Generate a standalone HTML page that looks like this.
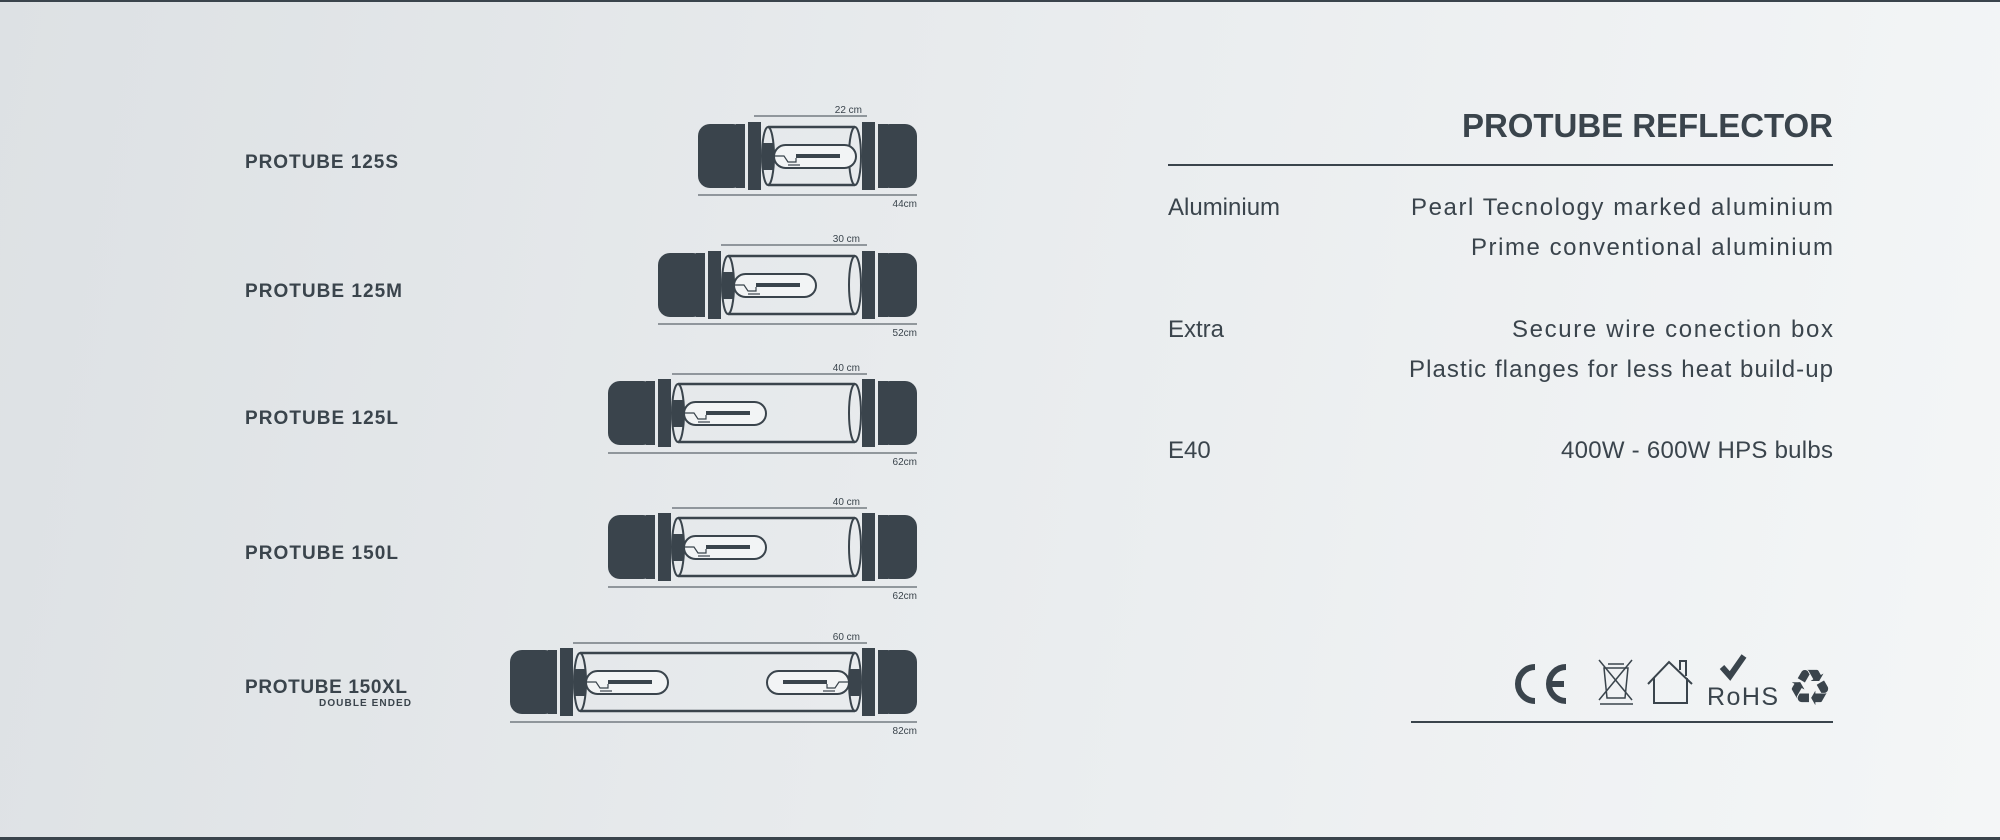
<!DOCTYPE html>
<html><head><meta charset="utf-8"><style>
html,body{margin:0;padding:0;width:2000px;height:840px;overflow:hidden}
body{background:linear-gradient(100deg,#dde1e4 0%,#e9ecee 50%,#f4f6f7 100%)}
svg{position:absolute;left:0;top:0}
text{font-family:"Liberation Sans",sans-serif;fill:#3a444c}
</style></head><body>
<svg width="2000" height="840" viewBox="0 0 2000 840">
<rect x="0" y="0" width="2000" height="2" fill="#3a444c"/>
<rect x="0" y="837" width="2000" height="3" fill="#3a444c"/>

<g font-weight="bold" font-size="19">
<text x="245" y="168" textLength="153">PROTUBE 125S</text>
<text x="245" y="297" textLength="157">PROTUBE 125M</text>
<text x="245" y="424" textLength="153">PROTUBE 125L</text>
<text x="245" y="559" textLength="153">PROTUBE 150L</text>
<text x="245" y="693" textLength="162">PROTUBE 150XL</text>
<text x="411" y="706" font-size="10" text-anchor="end" textLength="92">DOUBLE ENDED</text>
</g>

<defs>
<g id="lampL">
<rect x="0" y="19" width="12" height="27" fill="#3a444c"/>
<rect x="12" y="21" width="82" height="23" rx="11.5" fill="#f2f4f5" stroke="#3a444c" stroke-width="2"/>
<rect x="34" y="30" width="44" height="4" fill="#3a444c"/>
<polyline points="13,32 22,32 26,38 34,38 34,34" fill="none" stroke="#3a444c" stroke-width="1.2"/>
<line x1="26" y1="41" x2="38" y2="41" stroke="#3a444c" stroke-width="1.2"/>
</g>
</defs>

<g>
<rect x="698" y="124" width="47" height="64" rx="12" fill="#3a444c"/>
<rect x="736" y="124" width="9" height="64" fill="#3a444c"/>
<rect x="748" y="122" width="13" height="68" fill="#3a444c"/>
<line x1="768" y1="127" x2="855" y2="127" stroke="#3a444c" stroke-width="2.5"/>
<line x1="768" y1="185" x2="855" y2="185" stroke="#3a444c" stroke-width="2.5"/>
<ellipse cx="768" cy="156" rx="6" ry="29" fill="none" stroke="#3a444c" stroke-width="2"/>
<ellipse cx="855" cy="156" rx="6" ry="29" fill="none" stroke="#3a444c" stroke-width="2"/>
<use href="#lampL" x="762" y="124"/>
<rect x="862" y="122" width="13" height="68" fill="#3a444c"/>
<rect x="878" y="124" width="39" height="64" rx="12" fill="#3a444c"/>
<rect x="878" y="124" width="10" height="64" fill="#3a444c"/>
</g>
<g>
<rect x="658" y="253" width="47" height="64" rx="12" fill="#3a444c"/>
<rect x="696" y="253" width="9" height="64" fill="#3a444c"/>
<rect x="708" y="251" width="13" height="68" fill="#3a444c"/>
<line x1="728" y1="256" x2="855" y2="256" stroke="#3a444c" stroke-width="2.5"/>
<line x1="728" y1="314" x2="855" y2="314" stroke="#3a444c" stroke-width="2.5"/>
<ellipse cx="728" cy="285" rx="6" ry="29" fill="none" stroke="#3a444c" stroke-width="2"/>
<ellipse cx="855" cy="285" rx="6" ry="29" fill="none" stroke="#3a444c" stroke-width="2"/>
<use href="#lampL" x="722" y="253"/>
<rect x="862" y="251" width="13" height="68" fill="#3a444c"/>
<rect x="878" y="253" width="39" height="64" rx="12" fill="#3a444c"/>
<rect x="878" y="253" width="10" height="64" fill="#3a444c"/>
</g>
<g>
<rect x="608" y="381" width="47" height="64" rx="12" fill="#3a444c"/>
<rect x="646" y="381" width="9" height="64" fill="#3a444c"/>
<rect x="658" y="379" width="13" height="68" fill="#3a444c"/>
<line x1="678" y1="384" x2="855" y2="384" stroke="#3a444c" stroke-width="2.5"/>
<line x1="678" y1="442" x2="855" y2="442" stroke="#3a444c" stroke-width="2.5"/>
<ellipse cx="678" cy="413" rx="6" ry="29" fill="none" stroke="#3a444c" stroke-width="2"/>
<ellipse cx="855" cy="413" rx="6" ry="29" fill="none" stroke="#3a444c" stroke-width="2"/>
<use href="#lampL" x="672" y="381"/>
<rect x="862" y="379" width="13" height="68" fill="#3a444c"/>
<rect x="878" y="381" width="39" height="64" rx="12" fill="#3a444c"/>
<rect x="878" y="381" width="10" height="64" fill="#3a444c"/>
</g>
<g>
<rect x="608" y="515" width="47" height="64" rx="12" fill="#3a444c"/>
<rect x="646" y="515" width="9" height="64" fill="#3a444c"/>
<rect x="658" y="513" width="13" height="68" fill="#3a444c"/>
<line x1="678" y1="518" x2="855" y2="518" stroke="#3a444c" stroke-width="2.5"/>
<line x1="678" y1="576" x2="855" y2="576" stroke="#3a444c" stroke-width="2.5"/>
<ellipse cx="678" cy="547" rx="6" ry="29" fill="none" stroke="#3a444c" stroke-width="2"/>
<ellipse cx="855" cy="547" rx="6" ry="29" fill="none" stroke="#3a444c" stroke-width="2"/>
<use href="#lampL" x="672" y="515"/>
<rect x="862" y="513" width="13" height="68" fill="#3a444c"/>
<rect x="878" y="515" width="39" height="64" rx="12" fill="#3a444c"/>
<rect x="878" y="515" width="10" height="64" fill="#3a444c"/>
</g>
<g>
<rect x="510" y="650" width="47" height="64" rx="12" fill="#3a444c"/>
<rect x="548" y="650" width="9" height="64" fill="#3a444c"/>
<rect x="560" y="648" width="13" height="68" fill="#3a444c"/>
<line x1="580" y1="653" x2="855" y2="653" stroke="#3a444c" stroke-width="2.5"/>
<line x1="580" y1="711" x2="855" y2="711" stroke="#3a444c" stroke-width="2.5"/>
<ellipse cx="580" cy="682" rx="6" ry="29" fill="none" stroke="#3a444c" stroke-width="2"/>
<ellipse cx="855" cy="682" rx="6" ry="29" fill="none" stroke="#3a444c" stroke-width="2"/>
<use href="#lampL" x="574" y="650"/>
<use href="#lampL" transform="translate(861,650) scale(-1,1)"/>
<rect x="862" y="648" width="13" height="68" fill="#3a444c"/>
<rect x="878" y="650" width="39" height="64" rx="12" fill="#3a444c"/>
<rect x="878" y="650" width="10" height="64" fill="#3a444c"/>
</g>

<g stroke="#3a444c" stroke-width="1">
<line x1="754" y1="116" x2="867" y2="116"/><line x1="698" y1="195" x2="917" y2="195"/>
<line x1="721" y1="245" x2="867" y2="245"/><line x1="658" y1="324" x2="917" y2="324"/>
<line x1="672" y1="374" x2="867" y2="374"/><line x1="608" y1="453" x2="917" y2="453"/>
<line x1="672" y1="508" x2="867" y2="508"/><line x1="608" y1="587" x2="917" y2="587"/>
<line x1="573" y1="643" x2="867" y2="643"/><line x1="510" y1="722" x2="917" y2="722"/>
</g>
<g font-size="10" text-anchor="end">
<text x="862" y="113">22 cm</text><text x="917" y="207">44cm</text>
<text x="860" y="242">30 cm</text><text x="917" y="336">52cm</text>
<text x="860" y="371">40 cm</text><text x="917" y="465">62cm</text>
<text x="860" y="505">40 cm</text><text x="917" y="599">62cm</text>
<text x="860" y="640">60 cm</text><text x="917" y="734">82cm</text>
</g>

<text x="1833" y="137" font-size="33" font-weight="bold" text-anchor="end" textLength="371">PROTUBE REFLECTOR</text>
<rect x="1168" y="164" width="665" height="2" fill="#3a444c"/>
<g font-size="24">
<text x="1168" y="215">Aluminium</text>
<text x="1833" y="215" text-anchor="end" textLength="422">Pearl Tecnology marked aluminium</text>
<text x="1833" y="255" text-anchor="end" textLength="362">Prime conventional aluminium</text>
<text x="1168" y="337">Extra</text>
<text x="1833" y="337" text-anchor="end" textLength="321">Secure wire conection box</text>
<text x="1833" y="377" text-anchor="end" textLength="424">Plastic flanges for less heat build-up</text>
<text x="1168" y="458">E40</text>
<text x="1833" y="458" text-anchor="end" textLength="272">400W - 600W HPS bulbs</text>
</g>

<g fill="none" stroke="#3a444c">
<path d="M1535 667 A17 17 0 1 0 1535 701" stroke-width="6"/>
<path d="M1566 667 A17 17 0 1 0 1566 701 M1548 684 H1564" stroke-width="6"/>
<g stroke-width="1.5">
<path d="M1604 668 H1628 L1625 698 H1607 Z M1608 664 H1624"/>
<line x1="1599" y1="660" x2="1632" y2="700"/><line x1="1632" y1="660" x2="1599" y2="700"/>
<line x1="1600" y1="704" x2="1633" y2="704"/>
</g>
<path d="M1648 684 L1669 662 L1692 684 M1654 678 V703 H1687 V678 M1680 670 V661 H1686 V676" stroke-width="2"/>
<path d="M1722 667 L1730 676 L1744 656" stroke-width="6"/>
</g>
<text x="1707" y="705" font-size="25" textLength="71">RoHS</text>
<text x="1810" y="705" font-size="50" text-anchor="middle" style="font-family:'DejaVu Sans',sans-serif">♻</text>
<rect x="1411" y="721" width="422" height="2" fill="#3a444c"/>
</svg>
</body></html>
